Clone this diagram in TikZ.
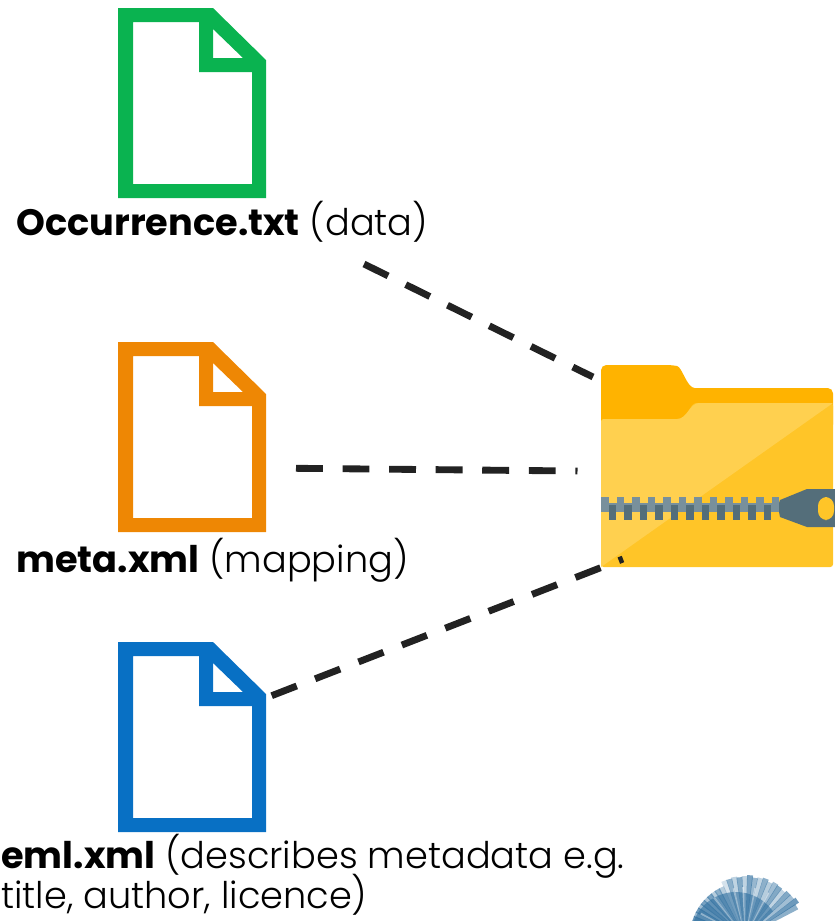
\documentclass[tikz,border=0pt]{standalone}
\usepackage{fontspec}
\setmainfont{Poppins Light}[BoldFont=Poppins Bold]
\definecolor{docgreen}{HTML}{0AB350}
\definecolor{docorange}{HTML}{EE8704}
\definecolor{docblue}{HTML}{0870C4}
\definecolor{tabyellow}{HTML}{FFB300}
\definecolor{frontlight}{HTML}{FFD04F}
\definecolor{frontdark}{HTML}{FFC528}
\definecolor{zipdark}{HTML}{546E7A}
\definecolor{ziplight}{HTML}{78909C}
\definecolor{linkgray}{HTML}{222222}
\definecolor{logoblue}{HTML}{2F6F9F}
\tikzset{
  linkline/.style={line width=3.9pt,draw=linkgray,dash pattern=on 15.3pt off 11.2pt},
  filelabel/.style={anchor=base west,inner sep=0pt,font=\fontsize{20.9pt}{24pt}\selectfont},
  docicon/.pic={
    \fill[#1,even odd rule] (0,0) -- (95,0) -- (148,52) -- (148,190) -- (0,190) -- cycle
      (15,14) -- (81,14) -- (81,64) -- (134,64) -- (134,176) -- (15,176) -- cycle
      (95,21) -- (95,50) -- (125,50) -- cycle;
  }
}
\begin{document}
\begin{tikzpicture}[x=0.02cm,y=-0.02cm]
    \useasboundingbox (0,0) rectangle (835,921);

    % Collegamenti (sotto la cartella)
    \coordinate (occend) at (364,264);
    \coordinate (occzip) at (593,377);
    \coordinate (metaend) at (296,468.3);
    \coordinate (metazip) at (577.5,471);
    \coordinate (emlend) at (271.7,695.7);
    \coordinate (emlzip) at (623,559);
    \draw[linkline] (occend) -- (occzip);
    \draw[linkline] (metaend) -- (metazip);

    % Cartella zip
    \fill[tabyellow,rounded corners=3pt] (601,430) -- (601,365) -- (672,365) .. controls (682,367) and (687,388) .. (700,388) -- (833,388) -- (833,430) -- cycle;
    \fill[frontdark,rounded corners=1.5pt] (601,419) -- (677,419) .. controls (687,419) and (690,403) .. (699,403) -- (833,403) -- (833,567) -- (601,567) -- cycle;
    \fill[frontlight] (601,421) -- (603,419) -- (677,419) .. controls (687,419) and (690,403) .. (699,403) -- (833,403) -- (601,567) -- cycle;

    % Cerniera
    \fill[ziplight] (601,503) rectangle (782,512);
    \foreach \tx in {601,616.5,...,780} {
        \fill[ziplight] (\tx,497) rectangle ++(7.7,8);
    }
    \foreach \tx in {608.5,624,...,770} {
        \fill[zipdark] (\tx,505) rectangle ++(7.7,15);
    }
    \fill[zipdark] (779,503) -- (780,500) -- (807,489) -- (835,489) -- (835,527) -- (807,527) -- (780,517) -- (779,512) -- cycle;
    \fill[frontdark,rounded corners=5pt] (818,497) rectangle (834,520);

    \draw[linkline] (emlend) -- (emlzip);

    % Documenti
    \pic at (118,8) {docicon=docgreen};
    \pic at (118,342) {docicon=docorange};
    \pic at (118,642) {docicon=docblue};

    % Etichette
    \node[filelabel] (occlabel) at (16,235) {\textbf{Occurrence.txt} (data)};
    \node[filelabel] (metalabel) at (16,572) {\textbf{meta.xml} (mapping)};
    \node[filelabel] (emllabel) at (1,868) {\textbf{eml.xml} (describes metadata e.g.};
    \node[filelabel] (emllabelb) at (1,908) {title, author, licence)};

    % Logo tagliato in basso
    \begin{scope}
        \clip (660,860) rectangle (835,921);
        \foreach \ang/\shade/\rlen in {30/55/60,35/70/64,40/45/62,45/60/62,50/30/60,55/60/61,60/45/62,65/35/60,70/55/62,75/30/61,80/50/60,85/65/62,90/30/61,95/60/60,100/30/61,105/55/60,110/20/60,115/35/55,120/55/55,125/35/55,130/65/55,135/40/55,140/65/55,145/45/55,150/70/55,155/50/55,160/75/55,165/60/55,170/75/55,175/60/55} {
            \fill[logoblue,opacity=0.\shade] (745,937) -- ++(-\ang+2.5:\rlen) -- ++(-\ang-90:6) -- cycle;
        }
        \fill[logoblue,opacity=0.6] (691,937) arc[start angle=180,end angle=360-35,radius=45] -- (745,937) -- cycle;
        \foreach \ang in {62,78,92,103,128,152} {
            \fill[white,opacity=0.4] (745,937) -- ++(-\ang+1:50) -- ++(-\ang-90:2) -- cycle;
        }
    \end{scope}
\end{tikzpicture}
\end{document}
